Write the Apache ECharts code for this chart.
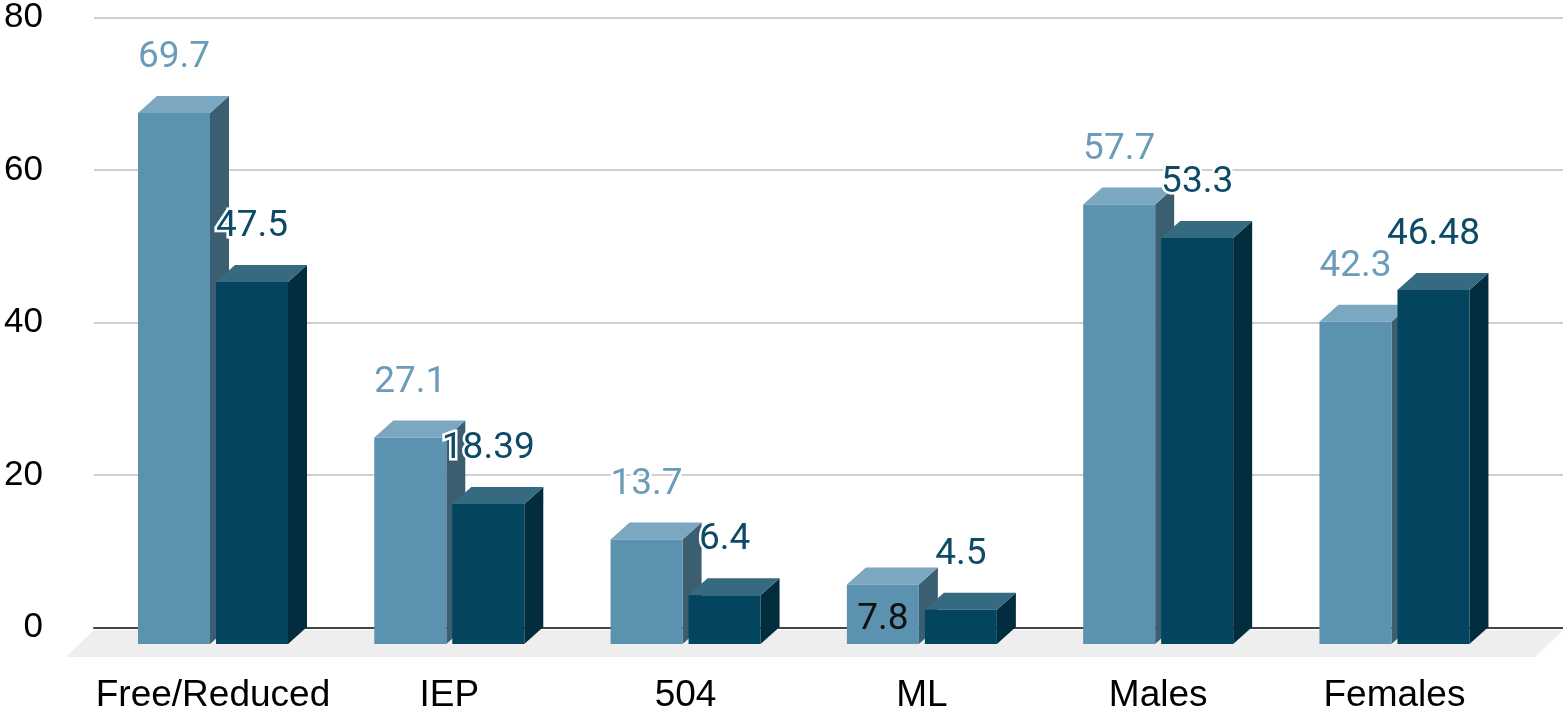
<!DOCTYPE html>
<html>
<head>
<meta charset="utf-8">
<script src="https://cdn.jsdelivr.net/npm/echarts@6/dist/echarts.min.js"></script>
<style>
  html, body { margin: 0; padding: 0; background: #ffffff; }
  #chart { width: 1563px; height: 714px; }
</style>
</head>
<body>
<div id="chart"></div>
<script>
// Categories and the two value groups shown side by side
const categories = ['Free/Reduced', 'IEP', '504', 'ML', 'Males', 'Females'];
const groupA = [69.7, 27.1, 13.7, 7.8, 57.7, 42.3];
const groupB = [47.5, 18.39, 6.4, 4.5, 53.3, 46.48];

// Value axis range
const yMin = 0;
const yMax = 80;
const yStep = 20;

// Face colours of each 3D column group
const palette = [
  { front: '#5b92b0', top: '#7ba8c0', side: '#3b5f71', label: '#6b9cba' },
  { front: '#03445f', top: '#356a81', side: '#022d3e', label: '#0c4a66' }
];

// Depth of the extruded columns, in pixels
const DEPTH_X = 19;
const DEPTH_Y = 17;
// Column width and gap as fractions of the category band
const BAR_RATIO = 72 / 236.3;
const GAP_RATIO = 6 / 236.3;

// Labels that sit inside the foot of the column instead of above it
const insideLabels = [{ group: 0, index: 3 }];

function barGeom(api, slot) {
  const cat = api.value(0);
  const val = api.value(1);
  const top = api.coord([cat, val]);
  const base = api.coord([cat, 0]);
  const band = api.size([1, 0])[0];
  const w = band * BAR_RATIO;
  const gap = band * GAP_RATIO;
  const x0 = slot === 0 ? top[0] - gap / 2 - w : top[0] + gap / 2;
  return { x0: x0, x1: x0 + w, yt: top[1], yb: base[1] };
}

function renderColumn(slot) {
  const c = palette[slot];
  return function (params, api) {
    const g = barGeom(api, slot);
    const dx = DEPTH_X, dy = DEPTH_Y;
    return {
      type: 'group',
      children: [
        {
          type: 'polygon',
          shape: { points: [[g.x1, g.yt + dy], [g.x1 + dx, g.yt], [g.x1 + dx, g.yb], [g.x1, g.yb + dy]] },
          style: { fill: c.side }
        },
        {
          type: 'polygon',
          shape: { points: [[g.x0, g.yt + dy], [g.x0 + dx, g.yt], [g.x1 + dx, g.yt], [g.x1, g.yt + dy]] },
          style: { fill: c.top }
        },
        {
          type: 'rect',
          shape: { x: g.x0, y: g.yt + dy, width: g.x1 - g.x0, height: g.yb - g.yt },
          style: { fill: c.front }
        }
      ]
    };
  };
}

function renderValueLabel(slot, values) {
  const c = palette[slot];
  return function (params, api) {
    const g = barGeom(api, slot);
    const inside = insideLabels.some(function (l) { return l.group === slot && l.index === params.dataIndex; });
    const cx = (g.x0 + g.x1) / 2;
    return {
      type: 'text',
      x: cx,
      y: inside ? g.yb + DEPTH_Y - 24 : g.yt - 38,
      style: {
        text: String(values[params.dataIndex]),
        fill: inside ? '#111111' : c.label,
        font: '37px Roboto',
        align: 'center',
        verticalAlign: 'middle',
        stroke: inside ? null : '#ffffff',
        lineWidth: 5
      }
    };
  };
}

// Light floor slab under the columns
function renderFloor(params, api) {
  const cs = params.coordSys;
  const yb = cs.y + cs.height;
  const fx = 28, fy = 27;
  return {
    type: 'polygon',
    shape: {
      points: [
        [cs.x, yb + 2.5],
        [cs.x + cs.width, yb + 2.5],
        [cs.x + cs.width - fx, yb + fy + 2.5],
        [cs.x - fx, yb + fy + 2.5]
      ]
    },
    style: { fill: '#eeeeee' }
  };
}

const toPairs = function (arr) { return arr.map(function (v, i) { return [i, v]; }); };

const chart = echarts.init(document.getElementById('chart'), null, { renderer: 'canvas' });

chart.setOption({
  animation: false,
  backgroundColor: '#ffffff',
  grid: [
    { left: 94, right: 0, top: 17.5, bottom: 86.5 },
    { left: 94.85, right: 50.4, top: 17.5, bottom: 86.5 }
  ],
  xAxis: [
    {
      gridIndex: 0, type: 'value', min: 0, max: 1,
      axisLine: { show: true, lineStyle: { color: '#444444', width: 2 } },
      axisTick: { show: false }, axisLabel: { show: false }, splitLine: { show: false }
    },
    {
      gridIndex: 1, type: 'category', data: categories,
      axisLine: { show: false }, axisTick: { show: false }, splitLine: { show: false },
      axisLabel: {
        margin: 50, color: '#000000', fontSize: 37, fontFamily: 'Liberation Sans', interval: 0
      }
    }
  ],
  yAxis: [
    {
      gridIndex: 0, type: 'value', min: yMin, max: yMax, interval: yStep,
      axisLine: { show: false }, axisTick: { show: false },
      axisLabel: { margin: 51, color: '#000000', fontSize: 35, fontFamily: 'Liberation Sans' },
      splitLine: { show: true, lineStyle: { color: '#cfcfcf', width: 2 } }
    },
    {
      gridIndex: 1, type: 'value', min: yMin, max: yMax, interval: yStep, show: false
    }
  ],
  series: [
    {
      type: 'custom', xAxisIndex: 0, yAxisIndex: 0, z: 1, silent: true,
      data: [[0, 0]], renderItem: renderFloor
    },
    {
      type: 'custom', name: 'A', xAxisIndex: 1, yAxisIndex: 1, z: 2,
      data: toPairs(groupA), renderItem: renderColumn(0)
    },
    {
      type: 'custom', name: 'B', xAxisIndex: 1, yAxisIndex: 1, z: 3,
      data: toPairs(groupB), renderItem: renderColumn(1)
    },
    {
      type: 'custom', xAxisIndex: 1, yAxisIndex: 1, z: 4, silent: true,
      data: toPairs(groupA), renderItem: renderValueLabel(0, groupA)
    },
    {
      type: 'custom', xAxisIndex: 1, yAxisIndex: 1, z: 5, silent: true,
      data: toPairs(groupB), renderItem: renderValueLabel(1, groupB)
    }
  ]
});
</script>
</body>
</html>
